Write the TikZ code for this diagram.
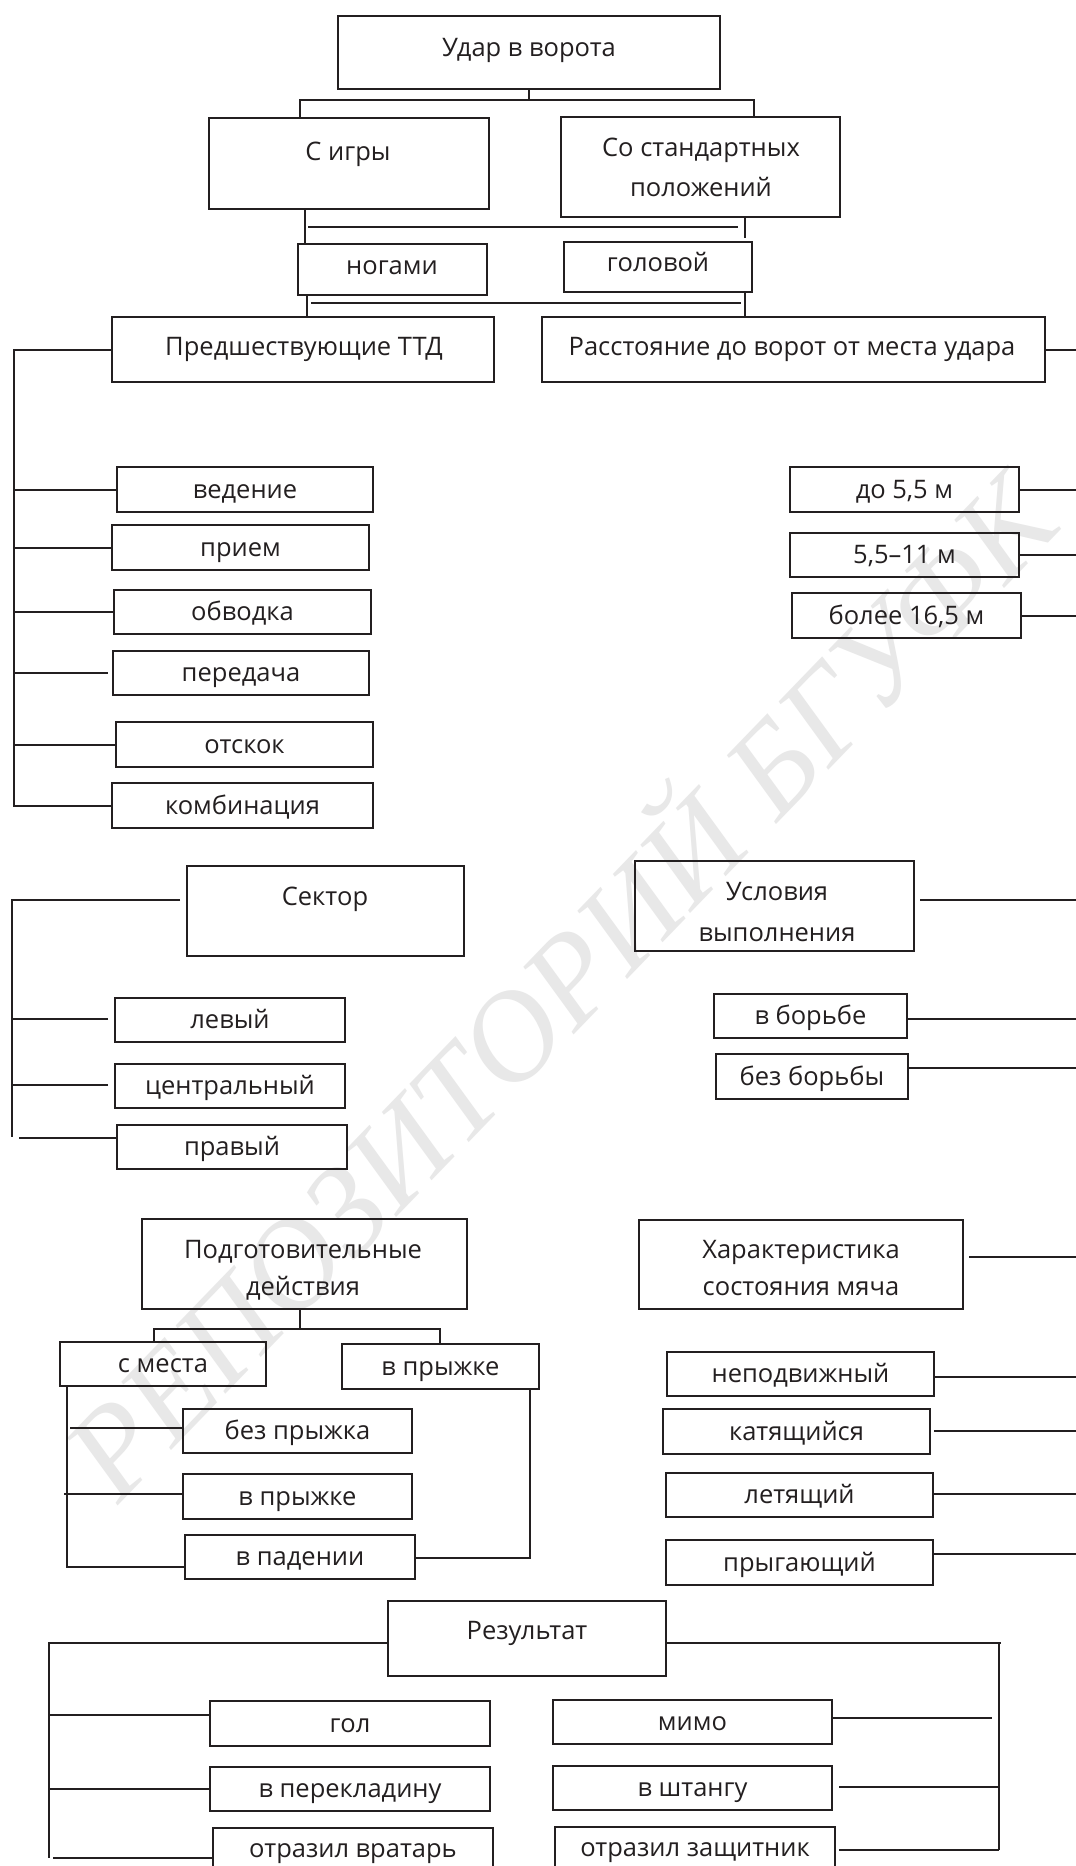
\documentclass[tikz,border=0pt]{standalone}
\usepackage{fontspec}
\setmainfont{Open Sans}
\newfontfamily\wmfont{Liberation Serif}
\definecolor{ink}{HTML}{231F20}
\begin{document}
\begin{tikzpicture}[x=1pt,y=-1pt,
  bx/.style={draw=ink,line width=2pt,inner sep=0pt,outer sep=0pt},
  lbl/.style={text=ink,font=\fontsize{25.5}{30}\selectfont,inner sep=0pt,text height=20pt,text depth=3pt},
  ln/.style={draw=ink,line width=2pt}]
\useasboundingbox (0,0) rectangle (1076,1866);
\clip (0,0) rectangle (1076,1866);
\fill[white] (0,0) rectangle (1076,1866);
% watermark
\node[rotate=46,text=black!9,font=\wmfont\itshape\fontsize{127}{127}\selectfont] (wm) at (552,978) {РЕПОЗИТОРИЙ БГУФК};
% coordinates
\coordinate (E) at (1076,0);
\coordinate (L1) at (14,0);
% boxes
\node[bx,minimum width=382pt,minimum height=73pt] (udar) at (529,52.5) {};
\node[lbl] (t-udar) at (529,48) {Удар в ворота};
\node[bx,minimum width=280pt,minimum height=91pt] (sigry) at (349,163.5) {};
\node[lbl] (t-sigry) at (348,152) {С игры};
\node[bx,minimum width=279pt,minimum height=100pt] (sost) at (700.5,167) {};
\node[lbl] (t-sost1) at (701,148) {Со стандартных};
\node[lbl] (t-sost2) at (701,188) {положений};
\node[bx,minimum width=189pt,minimum height=51pt] (nogami) at (392.5,269.5) {};
\node[lbl] (t-nogami) at (392,266) {ногами};
\node[bx,minimum width=188pt,minimum height=50pt] (golovoy) at (658,267) {};
\node[lbl] (t-golovoy) at (658,263) {головой};
\node[bx,minimum width=382pt,minimum height=65pt] (pred) at (303,349.5) {};
\node[lbl] (t-pred) at (304,347) {Предшествующие ТТД};
\node[bx,minimum width=503pt,minimum height=65pt] (rasst) at (793.5,349.5) {};
\node[lbl] (t-rasst) at (792,347) {Расстояние до ворот от места удара};
% left list
\node[bx,minimum width=256pt,minimum height=45pt] (vedenie) at (245,489.5) {};
\node[lbl] at (vedenie) {ведение};
\node[bx,minimum width=257pt,minimum height=45pt] (priem) at (240.5,547.5) {};
\node[lbl] at (priem) {прием};
\node[bx,minimum width=257pt,minimum height=44pt] (obvodka) at (242.5,612) {};
\node[lbl] at (obvodka) {обводка};
\node[bx,minimum width=256pt,minimum height=44pt] (peredacha) at (241,673) {};
\node[lbl] at (peredacha) {передача};
\node[bx,minimum width=257pt,minimum height=45pt] (otskok) at (244.5,744.5) {};
\node[lbl] at (otskok) {отскок};
\node[bx,minimum width=261pt,minimum height=45pt] (kombin) at (242.5,805.5) {};
\node[lbl] at (kombin) {комбинация};
% right list
\node[bx,minimum width=229pt,minimum height=45pt] (do55) at (904.5,489.5) {};
\node[lbl] at (do55) {до 5,5 м};
\node[bx,minimum width=229pt,minimum height=44pt] (s55) at (904.5,555) {};
\node[lbl] at (s55) {5,5–11 м};
\node[bx,minimum width=229pt,minimum height=45pt] (bolee) at (906.5,615.5) {};
\node[lbl] at (bolee) {более 16,5 м};
% sektor
\node[bx,minimum width=277pt,minimum height=90pt] (sektor) at (325.5,911) {};
\node[lbl] (t-sektor) at (325,897) {Сектор};
\node[bx,minimum width=230pt,minimum height=44pt] (levyy) at (230,1020) {};
\node[lbl] at (levyy) {левый};
\node[bx,minimum width=230pt,minimum height=44pt] (centr) at (230,1086) {};
\node[lbl] at (centr) {центральный};
\node[bx,minimum width=230pt,minimum height=44pt] (pravyy) at (232,1147) {};
\node[lbl] at (pravyy) {правый};
% usloviya
\node[bx,minimum width=279pt,minimum height=90pt] (usl) at (774.5,906) {};
\node[lbl] (t-usl1) at (777,892) {Условия};
\node[lbl] (t-usl2) at (777,933) {выполнения};
\node[bx,minimum width=193pt,minimum height=44pt] (vborbe) at (810.5,1016) {};
\node[lbl] at (vborbe) {в борьбе};
\node[bx,minimum width=192pt,minimum height=45pt] (bezborby) at (812,1076.5) {};
\node[lbl] at (bezborby) {без борьбы};
% podgotovitelnye
\node[bx,minimum width=325pt,minimum height=90pt] (podg) at (304.5,1264) {};
\node[lbl] (t-podg1) at (303,1250) {Подготовительные};
\node[lbl] (t-podg2) at (303,1287) {действия};
\node[bx,minimum width=206pt,minimum height=44pt] (smesta) at (163,1364) {};
\node[lbl] at (smesta) {с места};
\node[bx,minimum width=197pt,minimum height=45pt] (vpryzh1) at (440.5,1366.5) {};
\node[lbl] at (vpryzh1) {в прыжке};
\node[bx,minimum width=229pt,minimum height=44pt] (bezpryzh) at (297.5,1431) {};
\node[lbl] at (bezpryzh) {без прыжка};
\node[bx,minimum width=229pt,minimum height=45pt] (vpryzh2) at (297.5,1496.5) {};
\node[lbl] at (vpryzh2) {в прыжке};
\node[bx,minimum width=230pt,minimum height=44pt] (vpadenii) at (300,1557) {};
\node[lbl] at (vpadenii) {в падении};
% harakteristika
\node[bx,minimum width=324pt,minimum height=89pt] (harakt) at (801,1264.5) {};
\node[lbl] (t-har1) at (801,1250) {Характеристика};
\node[lbl] (t-har2) at (801,1287) {состояния мяча};
\node[bx,minimum width=267pt,minimum height=44pt] (nepodv) at (800.5,1374) {};
\node[lbl] at (nepodv) {неподвижный};
\node[bx,minimum width=267pt,minimum height=45pt] (katyashch) at (796.5,1431.5) {};
\node[lbl] at (katyashch) {катящийся};
\node[bx,minimum width=267pt,minimum height=44pt] (letyashch) at (799.5,1495) {};
\node[lbl] at (letyashch) {летящий};
\node[bx,minimum width=267pt,minimum height=45pt] (prygay) at (799.5,1562.5) {};
\node[lbl] at (prygay) {прыгающий};
% rezultat
\node[bx,minimum width=278pt,minimum height=75pt] (rezult) at (527,1638.5) {};
\node[lbl] (t-rez) at (527,1631) {Результат};
\node[bx,minimum width=280pt,minimum height=45pt] (gol) at (350,1723.5) {};
\node[lbl] at (gol) {гол};
\node[bx,minimum width=280pt,minimum height=44pt] (vperekl) at (350,1789) {};
\node[lbl] at (vperekl) {в перекладину};
\node[bx,minimum width=280pt,minimum height=45pt] (otrvrat) at (353,1850.5) {};
\node[lbl] (t-otrvrat) at (353,1849) {отразил вратарь};
\node[bx,minimum width=279pt,minimum height=44pt] (mimo) at (692.5,1722) {};
\node[lbl] at (mimo) {мимо};
\node[bx,minimum width=279pt,minimum height=44pt] (vshtangu) at (692.5,1788) {};
\node[lbl] at (vshtangu) {в штангу};
\node[bx,minimum width=280pt,minimum height=45pt] (otrzasch) at (695,1849.5) {};
\node[lbl] (t-otrzasch) at (695,1848) {отразил защитник};
% ---- connectors ----
\coordinate (jL) at (300,100);
\coordinate (jR) at (754,100);
\draw[ln] (udar.south) -- (udar.south |- jL);
\draw[ln] (jL |- sigry.north) -- (jL) -- (jR) -- (jR |- sost.north);
\draw[ln] (sigry.south -| 305,0) -- (nogami.north -| 305,0);
\draw[ln] (sost.south -| 745,0) -- (745,238);
\draw[ln] (308,227) -- (738,227);
\draw[ln] (nogami.south -| 307,0) -- (pred.north -| 307,0);
\draw[ln] (golovoy.south -| 745,0) -- (rasst.north -| 745,0);
\draw[ln] (311,303) -- (741,303);
% pred
\draw[ln] (pred.west) -- (pred.west -| L1) -- (L1 |- kombin.west) -- (kombin.west);
\foreach \n in {vedenie,priem,obvodka,otskok}
  \draw[ln] (L1 |- \n.west) -- (\n.west);
\draw[ln,shorten >=5pt] (L1 |- peredacha.west) -- (peredacha.west);
% rasst
\foreach \n in {rasst,do55,s55,bolee}
  \draw[ln] (\n.east) -- (\n.east -| E);
% sektor
\draw[ln,shorten <=7pt] (sektor.west |- 0,900) -- (12,900) -- (12,1137);
\draw[ln,shorten <=7pt] (levyy.west |- 0,1019) -- (12,1019);
\draw[ln,shorten <=7pt] (centr.west |- 0,1085) -- (12,1085);
\draw[ln] (pravyy.west |- 0,1138) -- (19,1138);
% usl
\draw[ln,shorten <=6pt] (usl.east |- 0,900) -- (E |- 0,900);
\draw[ln] (vborbe.east |- 0,1019) -- (E |- 0,1019);
\draw[ln] (bezborby.east |- 0,1068) -- (E |- 0,1068);
% podg
\draw[ln] (podg.south -| 300,0) -- (300,1329);
\draw[ln] (smesta.north -| 154,0) -- (154,1329) -- (440,1329) -- (vpryzh1.north -| 440,0);
\draw[ln] (smesta.south -| 67,0) -- (67,1567) -- (vpadenii.west |- 0,1567);
\draw[ln] (bezpryzh.west |- 0,1428) -- (70,1428);
\draw[ln] (vpryzh2.west |- 0,1494) -- (64,1494);
\draw[ln] (vpryzh1.south -| 530,0) -- (530,1558) -- (vpadenii.east |- 0,1558);
% harakt
\draw[ln,shorten <=6pt] (harakt.east |- 0,1257) -- (E |- 0,1257);
\draw[ln] (nepodv.east |- 0,1377) -- (E |- 0,1377);
\draw[ln,shorten <=4pt] (katyashch.east |- 0,1431) -- (E |- 0,1431);
\draw[ln] (letyashch.east |- 0,1494) -- (E |- 0,1494);
\draw[ln] (prygay.east |- 0,1554) -- (E |- 0,1554);
% rezult
\draw[ln] (rezult.west |- 0,1643) -- (49,1643) -- (49,1858);
\draw[ln] (gol.west |- 0,1715) -- (49,1715);
\draw[ln] (vperekl.west |- 0,1789) -- (49,1789);
\draw[ln] (otrvrat.west |- 0,1858) -- (53,1858);
\draw[ln] (rezult.east |- 0,1643) -- (1001,1643);
\draw[ln] (999,1643) -- (999,1850);
\draw[ln] (mimo.east |- 0,1718) -- (992,1718);
\draw[ln,shorten <=7pt] (vshtangu.east |- 0,1787) -- (999,1787);
\draw[ln,shorten <=4pt] (otrzasch.east |- 0,1850) -- (999,1850);
\end{tikzpicture}
\end{document}
